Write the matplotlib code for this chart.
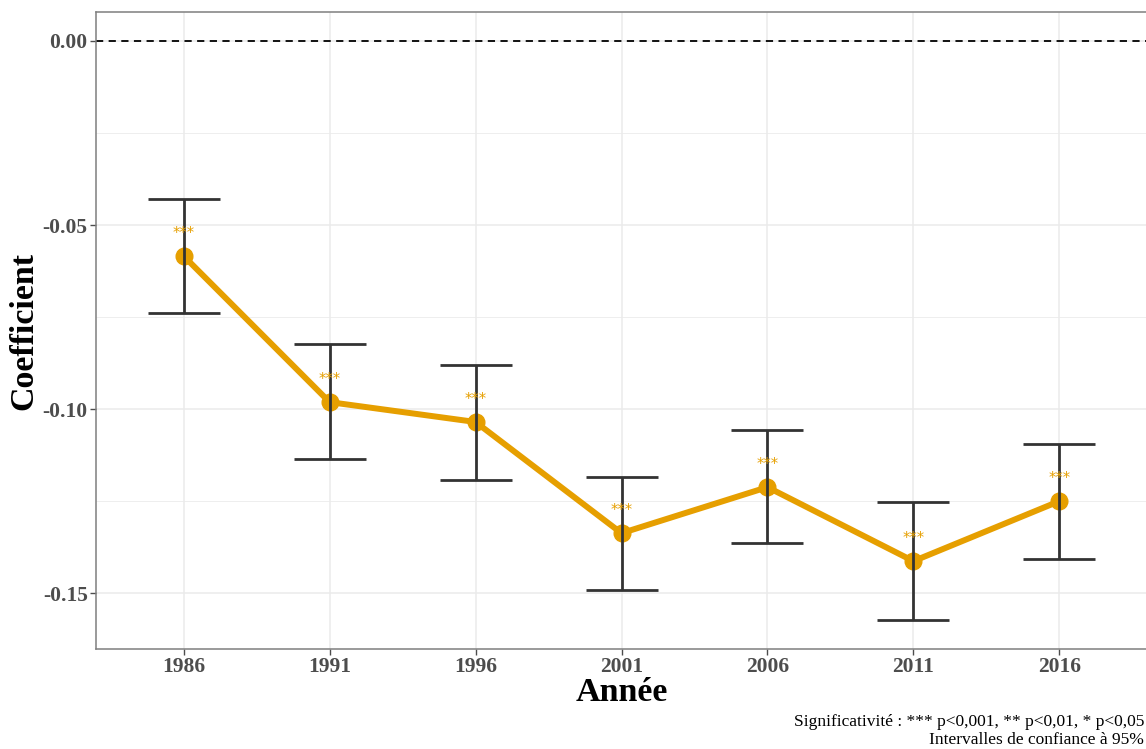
import numpy as np
import matplotlib
matplotlib.use("Agg")
import matplotlib.pyplot as plt

plt.rcParams['font.family'] = ['Liberation Serif', 'DejaVu Serif']

years = ['1986', '1991', '1996', '2001', '2006', '2011', '2016']
coef = [-0.0584, -0.0981, -0.1035, -0.1337, -0.1212, -0.1413, -0.1250]
ci_low = [-0.0739, -0.1136, -0.1193, -0.1492, -0.1364, -0.1573, -0.1408]
ci_high = [-0.0429, -0.0823, -0.0880, -0.1185, -0.1057, -0.1253, -0.1095]
signif = ['***', '***', '***', '***', '***', '***', '***']

orange = '#E69F00'
dark = '#333333'
tick_col = '#4D4D4D'

fig = plt.figure(figsize=(11.46, 7.49), dpi=100)
ax = fig.add_axes([96/1146, 100/749, 1051/1146, 637/749])

x = np.arange(1, len(years) + 1)
coef = np.array(coef)
lo = np.array(ci_low)
hi = np.array(ci_high)

ax.axhline(0, color='black', linestyle=(0, (4, 3)), linewidth=1.3, zorder=2)
ax.plot(x, coef, color=orange, linewidth=4.3, zorder=3)
ax.plot(x, coef, 'o', color=orange, markersize=12, zorder=3)
ax.errorbar(x, coef, yerr=[coef - lo, hi - coef], fmt='none', ecolor=dark,
            elinewidth=2.0, capsize=26, capthick=2.0, zorder=4)
for xi, yi, s in zip(x, coef, signif):
    ax.annotate(s, (xi, yi), xytext=(0, 11), textcoords='offset points',
                ha='center', va='bottom', color=orange, fontsize=10.5,
                family='DejaVu Sans', zorder=5)

ymin = lo.min()
ymax = 0.0
pad = (ymax - ymin) * 0.05
ax.set_ylim(ymin - pad, ymax + pad)
ax.set_xlim(0.4, len(years) + 0.6)

ax.set_xticks(x)
ax.set_xticklabels(years)
ax.set_yticks([0.0, -0.05, -0.10, -0.15])
ax.set_yticklabels(['0.00', '-0.05', '-0.10', '-0.15'])
ax.set_yticks([-0.025, -0.075, -0.125], minor=True)

ax.grid(True, which='major', color='#EBEBEB', linewidth=1.1, zorder=0)
ax.grid(True, which='minor', axis='y', color='#EBEBEB', linewidth=0.6, zorder=0)
ax.set_axisbelow(True)
ax.tick_params(axis='both', which='major', colors=tick_col, labelcolor=tick_col,
               length=4, width=1, labelsize=15.5, pad=2)
ax.tick_params(axis='y', which='minor', length=0)
for lab in ax.get_xticklabels() + ax.get_yticklabels():
    lab.set_fontweight('bold')
for sp in ax.spines.values():
    sp.set_color('#7F7F7F')
    sp.set_linewidth(1.1)

ax.set_xlabel('Année', fontsize=24.5, fontweight='bold', labelpad=0)
ax.set_ylabel('Coefficient', fontsize=24.5, fontweight='bold', labelpad=2)

fig.text(1144/1146, 19/749, 'Significativité : *** p<0,001, ** p<0,01, * p<0,05',
         ha='right', va='bottom', fontsize=12.5)
fig.text(1144/1146, 1/749, 'Intervalles de confiance à 95%',
         ha='right', va='bottom', fontsize=12.5)

fig.savefig('out.png', dpi=100)
